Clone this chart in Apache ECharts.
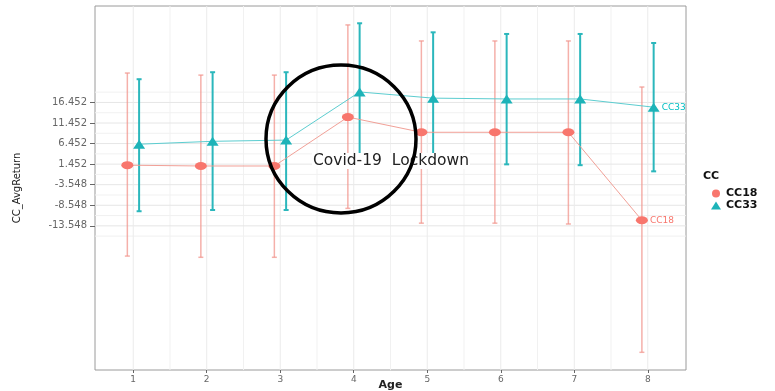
<!DOCTYPE html>
<html>
<head>
<meta charset="utf-8">
<script src="https://cdn.jsdelivr.net/npm/echarts@6/dist/echarts.min.js"></script>
<style>
  html, body { margin: 0; padding: 0; background: #fff; }
  #chart { width: 775px; height: 391px; }
</style>
</head>
<body>
<div id="chart"></div>
<script>
// données
const ages = [1, 2, 3, 4, 5, 6, 7, 8];
const dodge = 0.08;

const cc18Mean = [1.2, 1.0, 1.0, 12.9, 9.2, 9.2, 9.2, -12.2];
const cc18Low  = [-20.9, -21.2, -21.2, -9.3, -12.9, -12.9, -13.1, -44.3];
const cc18High = [23.6, 23.1, 23.1, 35.3, 31.4, 31.4, 31.4, 20.2];

const cc33Mean = [6.3, 7.0, 7.3, 19.0, 17.5, 17.3, 17.3, 15.3];
const cc33Low  = [-10.0, -9.7, -9.7, 2.2, 1.4, 1.4, 1.2, -0.3];
const cc33High = [22.1, 23.8, 23.8, 35.7, 33.5, 33.1, 33.1, 30.9];

const yTicks = [-13.548, -8.548, -3.548, 1.452, 6.452, 11.452, 16.452];
const yMinor = [-16.048, -11.048, -6.048, -1.048, 3.952, 8.952, 13.952, 18.952];
const xTicks = [1, 2, 3, 4, 5, 6, 7, 8];
const xMinor = [1.5, 2.5, 3.5, 4.5, 5.5, 6.5, 7.5];

const RED = '#F8766D';
const TEAL = '#00BFC4';

const chart = echarts.init(document.getElementById('chart'));

// points décalés (position_dodge)
function pts(mean, off) {
    return ages.map((a, i) => [a + off, mean[i]]);
}
function bars(low, high, off) {
    return ages.map((a, i) => [a + off, low[i], high[i]]);
}

function errorBar(color, width) {
    return function (params, api) {
        const x = api.value(0);
        const p1 = api.coord([x, api.value(1)]);
        const p2 = api.coord([x, api.value(2)]);
        const cap = 2.5;
        const st = { stroke: color, lineWidth: width };
        return {
            type: 'group',
            children: [
                { type: 'line', shape: { x1: p1[0], y1: p1[1], x2: p2[0], y2: p2[1] }, style: st },
                { type: 'line', shape: { x1: p1[0] - cap, y1: p1[1], x2: p1[0] + cap, y2: p1[1] }, style: st },
                { type: 'line', shape: { x1: p2[0] - cap, y1: p2[1], x2: p2[0] + cap, y2: p2[1] }, style: st }
            ]
        };
    };
}

function hLine(color) {
    return function (params, api) {
        const cs = params.coordSys;
        const y = api.coord([1, api.value(0)])[1];
        return { type: 'line', shape: { x1: cs.x, y1: y, x2: cs.x + cs.width, y2: y },
                 style: { stroke: color, lineWidth: 1 } };
    };
}
function vLine(color) {
    return function (params, api) {
        const cs = params.coordSys;
        const x = api.coord([api.value(0), 0])[0];
        return { type: 'line', shape: { x1: x, y1: cs.y, x2: x, y2: cs.y + cs.height },
                 style: { stroke: color, lineWidth: 1 } };
    };
}

const cc18Pts = pts(cc18Mean, -dodge);
const cc33Pts = pts(cc33Mean, dodge);
const last = ages.length - 1;
const endLabel = (color) => ({ show: true, position: 'right', distance: 2, formatter: '{a}',
                               color: color, fontSize: 9, fontFamily: 'DejaVu Sans' });
cc18Pts[last] = { value: cc18Pts[last], label: endLabel(RED) };
cc33Pts[last] = { value: cc33Pts[last], label: endLabel(TEAL) };

const options = {
    animation: false,
    textStyle: { fontFamily: 'DejaVu Sans' },
    grid: { left: 95, right: 89, top: 6, bottom: 21, show: true, outerBoundsMode: 'none',
            borderColor: '#9a9a9a', borderWidth: 1, backgroundColor: '#fff' },
    xAxis: {
        type: 'value', min: 0.48, max: 8.52,
        name: 'Age', nameLocation: 'middle', nameGap: 10, nameMoveOverlap: false,
        nameTextStyle: { fontSize: 11, fontWeight: 'bold', color: '#222' },
        axisLine: { show: false, onZero: false },
        axisTick: { show: true, length: 3, customValues: xTicks, lineStyle: { color: '#666' } },
        axisLabel: { customValues: xTicks, fontSize: 9, color: '#666', margin: 5 },
        splitLine: { show: false }
    },
    yAxis: {
        type: 'value', min: -48.6, max: 39.9,
        name: 'CC_AvgReturn', nameLocation: 'middle', nameGap: 73, nameRotate: 90,
        nameTextStyle: { fontSize: 10, color: '#222' },
        axisLine: { show: false, onZero: false },
        axisTick: { show: true, length: 5, customValues: yTicks, lineStyle: { color: '#666' } },
        axisLabel: { customValues: yTicks, fontSize: 10, color: '#666', margin: 8 },
        splitLine: { show: false }
    },
    legend: {
        orient: 'vertical', left: 706, top: 183, itemGap: 1,
        itemWidth: 10, itemHeight: 8,
        textStyle: { fontSize: 11, fontWeight: 'bold', color: '#111' },
        data: [{ name: 'CC18', icon: 'circle' }, { name: 'CC33', icon: 'triangle' }]
    },
    series: [
        { type: 'custom', name: 'gridMinorY', silent: true, z: 0, renderItem: hLine('#f1f1f1'),
          data: yMinor.map(v => [v]), encode: { y: 0 } },
        { type: 'custom', name: 'gridMinorX', silent: true, z: 0, renderItem: vLine('#f1f1f1'),
          data: xMinor.map(v => [v]), encode: { x: 0 } },
        { type: 'custom', name: 'gridY', silent: true, z: 0, renderItem: hLine('#e6e6e6'),
          data: yTicks.map(v => [v]), encode: { y: 0 } },
        { type: 'custom', name: 'gridX', silent: true, z: 0, renderItem: vLine('#ebebeb'),
          data: xTicks.map(v => [v]), encode: { x: 0 } },
        { type: 'custom', name: 'errCC18', silent: true, z: 2, renderItem: errorBar('rgba(242,150,142,0.75)', 1.5),
          data: bars(cc18Low, cc18High, -dodge), encode: { x: 0, y: [1, 2] } },
        { type: 'custom', name: 'errCC33', silent: true, z: 2, renderItem: errorBar('#2bb7bc', 2),
          data: bars(cc33Low, cc33High, dodge), encode: { x: 0, y: [1, 2] } },
        { type: 'line', name: 'CC18', z: 3, data: cc18Pts, symbol: 'circle', symbolSize: [12, 8],
          itemStyle: { color: RED }, lineStyle: { color: 'rgba(240,150,140,0.9)', width: 1 } },
        { type: 'line', name: 'CC33', z: 3, data: cc33Pts, symbol: 'triangle', symbolSize: [12, 9],
          itemStyle: { color: '#1db3b8' }, lineStyle: { color: '#5ccdd0', width: 1 } }
    ],
    graphic: [
        { type: 'text', left: 312, top: 153, z: 10,
          style: { text: 'Covid-19  Lockdown', font: '15.5px "DejaVu Sans"', fill: '#222',
                   backgroundColor: '#fff', padding: [0, 1] } },
        { type: 'ellipse', z: 11, shape: { cx: 341, cy: 139, rx: 75, ry: 74 },
          style: { fill: 'none', stroke: '#000', lineWidth: 3.5 } },
        { type: 'text', left: 703, top: 171, z: 10,
          style: { text: 'CC', font: 'bold 11px "DejaVu Sans"', fill: '#111' } }
    ]
};

chart.setOption(options);

window.addEventListener('resize', () => {
    chart.resize();
});
</script>
</body>
</html>
